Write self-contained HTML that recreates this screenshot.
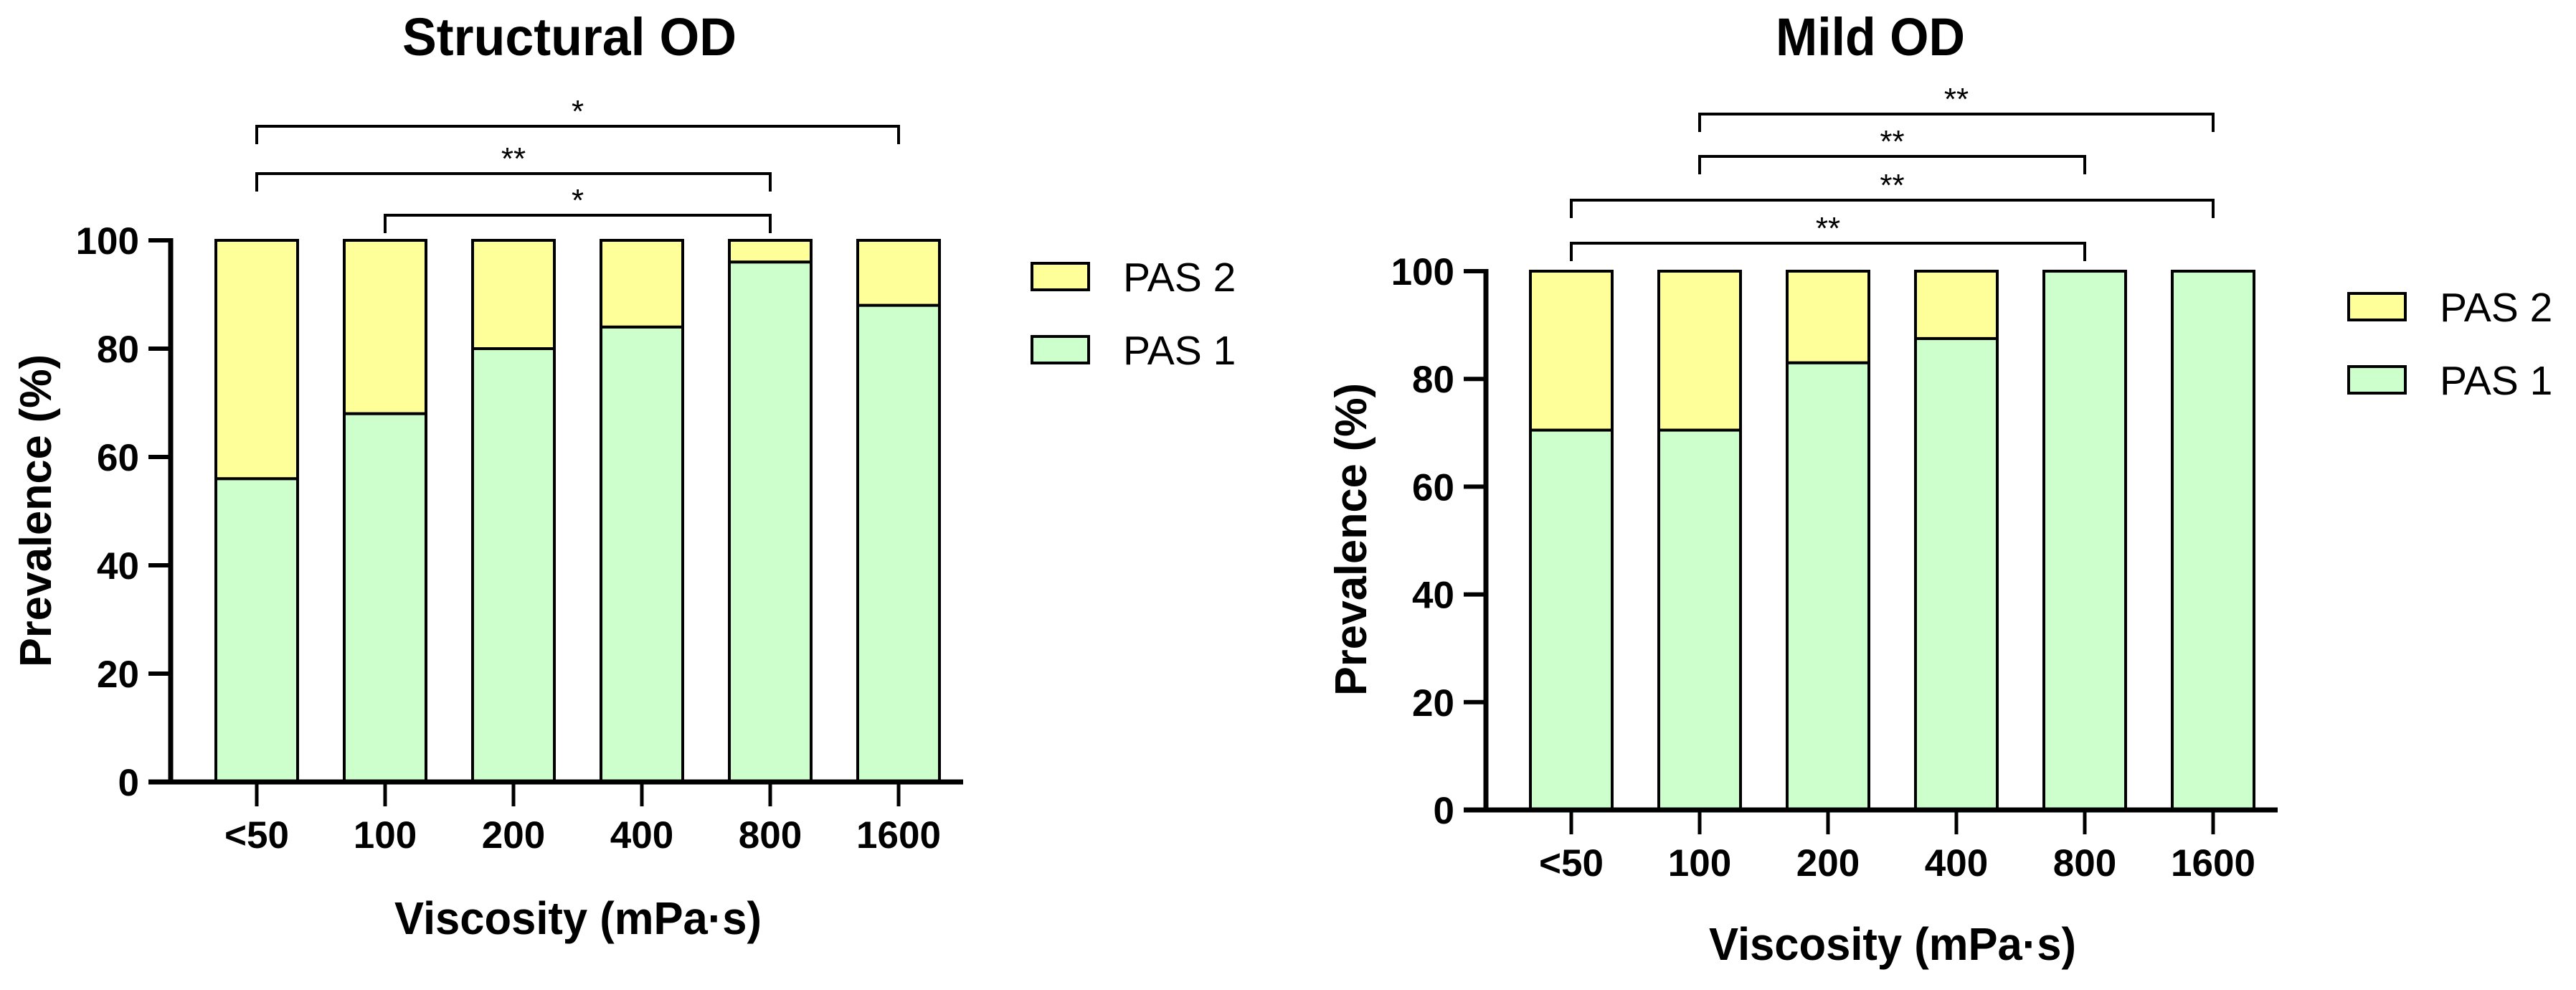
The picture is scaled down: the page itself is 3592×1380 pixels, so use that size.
<!DOCTYPE html>
<html><head><meta charset="utf-8">
<style>
html,body{margin:0;padding:0;background:#fff;}
svg{display:block;}
text{font-family:"Liberation Sans",Arial,sans-serif;fill:#000;}
</style></head>
<body>
<svg id="fig" width="3592" height="1380" viewBox="0 0 3592 1380" xmlns="http://www.w3.org/2000/svg"></svg>
<script>
const categories = ["<50","100","200","400","800","1600"];
const structPAS1 = [56, 68, 80, 84, 96, 88];
const structPAS2 = [44, 32, 20, 16, 4, 12];
const mildPAS1 = [70.5, 70.5, 83, 87.5, 100, 100];
const mildPAS2 = [29.5, 29.5, 17, 12.5, 0, 0];
const yTicks = [0, 20, 40, 60, 80, 100];
const structBrackets = [[0,5,"*"],[0,4,"**"],[1,4,"*"]];
const mildBrackets = [[1,5,"**"],[1,4,"**"],[0,5,"**"],[0,4,"**"]];

const NS = "http://www.w3.org/2000/svg";
const svg = document.getElementById("fig");
function mk(tag, attrs, parent){
  const e = document.createElementNS(NS, tag);
  for (const k in attrs) e.setAttribute(k, attrs[k]);
  (parent||svg).appendChild(e);
  return e;
}

function drawPanel(cfg){
  const g = mk("g", {});
  
  
  const yScale = v => cfg.y0 - (cfg.y0 - cfg.y100) * v / 100;
  const xScale = i => cfg.x0 + cfg.step * i;
  const bw = 114;

  // title
  const t = mk("text", {x: cfg.titleX, y: 77, "font-size": 74, "font-weight": "bold", textLength: cfg.titleW, lengthAdjust: "spacingAndGlyphs"}, g);
  t.textContent = cfg.title;
  
  

  // bars
  categories.forEach((c, i) => {
    const cx = xScale(i);
    const p1 = cfg.p1[i], p2 = cfg.p2[i];
    const r1 = mk("rect", {x: cx - bw/2, y: yScale(p1), width: bw, height: yScale(0) - yScale(p1), fill: "#ccffcc", stroke: "#000", "stroke-width": 4}, g);
    
    
    if (p2 > 0) {
      const r2 = mk("rect", {x: cx - bw/2, y: yScale(p1 + p2), width: bw, height: yScale(p1) - yScale(p1 + p2), fill: "#ffff99", stroke: "#000", "stroke-width": 4}, g);
      
      
    }
    // x tick
    const tk = mk("line", {x1: cx, x2: cx, y1: cfg.y0, y2: cfg.y0 + 34, stroke: "#000", "stroke-width": 5}, g);
    
    
    const tl = mk("text", {x: cx, y: cfg.y0 + 92, "font-size": 53, "font-weight": "bold", "text-anchor": "middle"}, g);
    tl.textContent = c;
    
    
  });

  // y axis
  const ya = mk("line", {x1: cfg.ax, x2: cfg.ax, y1: yScale(100) - 3, y2: cfg.y0 + 3, stroke: "#000", "stroke-width": 7}, g);
  
  
  yTicks.forEach(v => {
    const y = yScale(v);
    const l = mk("line", {x1: cfg.ax - 31, x2: cfg.ax, y1: y, y2: y, stroke: "#000", "stroke-width": 6}, g);
    
    
    const tx = mk("text", {x: cfg.ax - 44, y: y + 19, "font-size": 53, "font-weight": "bold", "text-anchor": "end"}, g);
    tx.textContent = v;
    
    
  });
  // x axis
  const xa = mk("line", {x1: cfg.ax - 31, x2: xScale(5) + bw/2 + 33, y1: cfg.y0, y2: cfg.y0, stroke: "#000", "stroke-width": 7}, g);
  
  

  // axis titles
  const xt = mk("text", {x: cfg.xtX, y: cfg.xtY, "font-size": 64, "font-weight": "bold", textLength: 512, lengthAdjust: "spacingAndGlyphs"}, g);
  xt.textContent = "Viscosity (mPa\u00b7s)";
  
  
  const ytc = cfg.ytc;
  const yt = mk("text", {x: 0, y: 0, "font-size": 62, "font-weight": "bold", "text-anchor": "middle", textLength: 436, lengthAdjust: "spacingAndGlyphs", transform: "translate(" + (cfg.ytX) + "," + ytc + ") rotate(-90)"}, g);
  yt.textContent = "Prevalence (%)";
  
  

  // significance brackets
  cfg.brackets.forEach((b, k) => {
    const by = cfg.bracketY[k];
    const xa1 = xScale(b[0]), xb1 = xScale(b[1]);
    const p = mk("path", {d: "M" + xa1 + "," + (by + 25) + " V" + by + " H" + xb1 + " V" + (by + 25), fill: "none", stroke: "#000", "stroke-width": 4}, g);
    
    
    const s = mk("text", {x: (xa1 + xb1) / 2, y: by - 6, "font-size": 44, "text-anchor": "middle"}, g);
    s.textContent = b[2];
    
    
  });

  // legend
  const leg = [["PAS 2", "#ffff99"], ["PAS 1", "#ccffcc"]];
  leg.forEach((L, k) => {
    const ly = cfg.legY + k * 102;
    const r = mk("rect", {x: cfg.legX, y: ly, width: 79, height: 37, fill: L[1], stroke: "#000", "stroke-width": 4}, g);
    
    
    const tx = mk("text", {x: cfg.legX + 127, y: ly + 39, "font-size": 57}, g);
    tx.textContent = L[0];
    
    
  });
}

drawPanel({name: "structural-od-chart", title: "Structural OD", titleX: 561, titleW: 466,
  x0: 358, step: 179, ax: 238, y0: 1090, y100: 335, p1: structPAS1, p2: structPAS2,
  xtX: 550, xtY: 1302, ytX: 71, ytc: 712, brackets: structBrackets, bracketY: [176, 242, 300],
  legX: 1439, legY: 367});
drawPanel({name: "mild-od-chart", title: "Mild OD", titleX: 2476, titleW: 264,
  x0: 2191, step: 179, ax: 2072, y0: 1129, y100: 378, p1: mildPAS1, p2: mildPAS2,
  xtX: 2383, xtY: 1338, ytX: 1905, ytc: 752, brackets: mildBrackets, bracketY: [159, 218, 279, 339],
  legX: 3275, legY: 409});
</script>
</body></html>
